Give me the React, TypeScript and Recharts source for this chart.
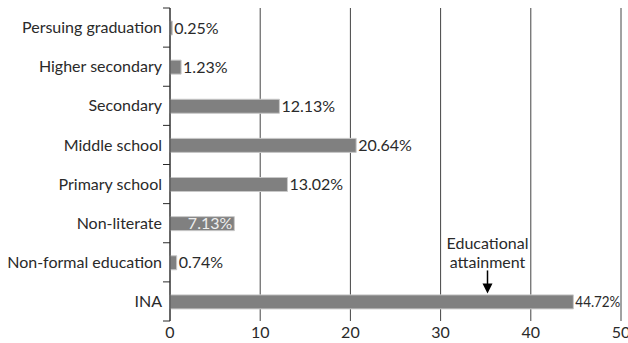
import React from "react";
import { BarChart, Bar, XAxis, YAxis, CartesianGrid, LabelList, ReferenceDot } from "recharts";

const categories = [
  "Persuing graduation",
  "Higher secondary",
  "Secondary",
  "Middle school",
  "Primary school",
  "Non-literate",
  "Non-formal education",
  "INA",
];
const values = [0.25, 1.23, 12.13, 20.64, 13.02, 7.13, 0.74, 44.72];
const xTicks = [0, 10, 20, 30, 40, 50];
const insideLabelCategories = ["Non-literate"];
const annotationCategory = "INA";
const annotationValue = 35.2;
const annotationLines = ["Educational", "attainment"];

const data = categories.map((name, i) => ({ name, value: values[i] }));

const W = 628;
const H = 343;
const MARGIN = { top: 8, right: 7, bottom: 0, left: 0 };
const X_AXIS_H = 22;
const Y_AXIS_W = 170;
const FONT = "Lato, 'Open Sans', sans-serif";
const FS = 16;
const TEXT = "#2a2a2a";
const BAND = (H - MARGIN.top - MARGIN.bottom - X_AXIS_H) / categories.length;

const CategoryTick = (props: any) => {
  const { x, y, payload, index } = props;
  const axisX = x + 7;
  return (
    <g>
      <line x1={x} x2={axisX} y1={y - BAND / 2} y2={y - BAND / 2} stroke={TEXT} strokeWidth={1} />
      {index === categories.length - 1 && (
        <line x1={x} x2={axisX} y1={y + BAND / 2} y2={y + BAND / 2} stroke={TEXT} strokeWidth={1} />
      )}
      <text x={x - 1} y={y} dy="0.35em" textAnchor="end" fontSize={FS} fill={TEXT} fontFamily={FONT}>
        {payload.value}
      </text>
    </g>
  );
};

const ValueLabel = (props: any) => {
  const { x, y, width, height, value, index } = props;
  const inside = insideLabelCategories.includes(categories[index]);
  const ty = y + height / 2;
  const label = `${value.toFixed(2)}%`;
  if (inside) {
    return (
      <text x={x + width - 2} y={ty} dy="0.35em" textAnchor="end" fontSize={FS} fill="#eeeeee" fontFamily={FONT}>
        {label}
      </text>
    );
  }
  const squeeze = value > 40;
  return (
    <text
      x={x + width + 2}
      y={ty}
      dy="0.35em"
      textAnchor="start"
      fontSize={FS}
      fill={TEXT}
      fontFamily={FONT}
      {...(squeeze ? { textLength: 45, lengthAdjust: "spacingAndGlyphs" } : {})}
    >
      {label}
    </text>
  );
};

const Annotation = (props: any) => {
  const { cx, cy } = props;
  if (cx == null || cy == null) return null;
  return (
    <g>
      {annotationLines.map((l, i) => (
        <text
          key={i}
          x={cx}
          y={cy - 52 + i * 19}
          textAnchor="middle"
          fontSize={FS}
          fill={TEXT}
          fontFamily={FONT}
        >
          {l}
        </text>
      ))}
      <line x1={cx} x2={cx} y1={cy - 31} y2={cy - 17} stroke="#000" strokeWidth={1.5} />
      <path d={`M ${cx - 5} ${cy - 18} L ${cx + 5} ${cy - 18} L ${cx} ${cy - 8} Z`} fill="#000" />
    </g>
  );
};

export default function App() {
  return (
    <div style={{ position: "absolute", left: 0, top: 0, width: W, height: H, background: "#fff" }}>
      <BarChart width={W} height={H} data={data} layout="vertical" margin={MARGIN} barCategoryGap={0}>
        <CartesianGrid horizontal={false} vertical={true} stroke="#444" strokeWidth={1} />
        <XAxis
          type="number"
          domain={[0, 50]}
          ticks={xTicks}
          axisLine={false}
          tickLine={false}
          height={X_AXIS_H}
          tickSize={4}
          tickMargin={2}
          tick={{ fontSize: FS, fill: TEXT, fontFamily: FONT }}
          interval={0}
        />
        <YAxis
          type="category"
          dataKey="name"
          width={Y_AXIS_W}
          axisLine={{ stroke: TEXT, strokeWidth: 1 }}
          tickLine={false}
          tickSize={7}
          tickMargin={0}
          tick={<CategoryTick />}
          interval={0}
        />
        <Bar dataKey="value" fill="#808080" stroke="#c8c8c8" strokeWidth={1} barSize={14} isAnimationActive={false}>
          <LabelList dataKey="value" content={<ValueLabel />} />
        </Bar>
        <ReferenceDot x={annotationValue} y={annotationCategory} r={0} shape={<Annotation />} ifOverflow="visible" />
      </BarChart>
    </div>
  );
}
